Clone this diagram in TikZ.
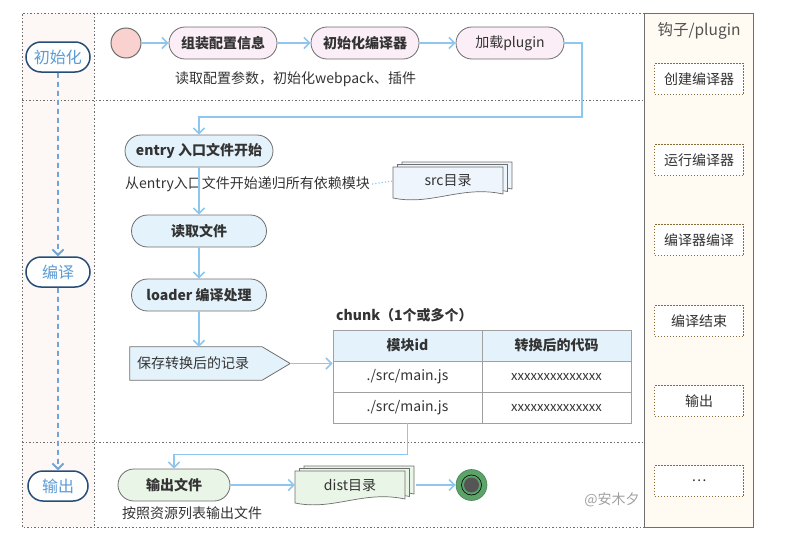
\documentclass[tikz,border=0pt]{standalone}
\usepackage{fontspec}
\setmainfont{Noto Sans CJK SC}
\usepackage{xcolor}
\usetikzlibrary{arrows.meta,positioning,shapes.misc,backgrounds,calc}
\definecolor{txtDark}{RGB}{51,51,51}
\definecolor{frameGray}{RGB}{110,110,110}
\definecolor{laneFill}{RGB}{253,247,246}
\definecolor{hookFill}{RGB}{255,251,243}
\definecolor{hookLine}{RGB}{139,109,58}
\definecolor{laneBorder}{RGB}{38,77,120}
\definecolor{laneText}{RGB}{91,155,213}
\definecolor{laneArrow}{RGB}{111,165,216}
\definecolor{flowBlue}{RGB}{141,199,239}
\definecolor{nodeBorder}{RGB}{110,110,110}
\definecolor{pinkFill}{RGB}{252,238,246}
\definecolor{startFill}{RGB}{249,210,207}
\definecolor{blueFill}{RGB}{228,243,251}
\definecolor{docBlue}{RGB}{238,245,252}
\definecolor{greenFill}{RGB}{233,245,231}
\definecolor{endGreen}{RGB}{92,163,106}
\definecolor{endCore}{RGB}{85,85,85}
\definecolor{tblLine}{RGB}{160,160,160}
\definecolor{markGray}{RGB}{160,160,160}

\newcommand{\fsz}[1]{\fontsize{#1}{#1}\selectfont}
% stacked document sheets: x1 y1 x2 y2 fill
\newcommand{\docsheets}[5]{%
  \foreach \dx/\dy in {9/-5,4.5/-2.5,0/0}{
    \draw[sheet, fill=#5, shift={(\dx,\dy)}]
      (#1,#2) -- (#3,#2) -- (#3,#4-6)
      .. controls ({#1+0.62*(#3-#1)},#4-15) and ({#1+0.35*(#3-#1)},#4+6) .. (#1,#4-2) -- cycle;
  }}

\tikzset{
  frameline/.style={draw=frameGray, line width=0.8pt, dash pattern=on 1.5pt off 2pt},
  flow/.style={draw=flowBlue, line width=1.6pt, -{Straight Barb[length=5.5pt,width=11pt]}},
  lanearrow/.style={draw=laneArrow, line width=1.8pt, dash pattern=on 5pt off 4pt,
    -{Straight Barb[length=5.5pt,width=11pt]}},
  lane/.style={rounded rectangle, draw=laneBorder, line width=1.5pt, fill=white,
    text=laneText, font=\fsz{16}, minimum height=30pt, inner sep=0pt},
  stepnode/.style={rounded rectangle, draw=nodeBorder, line width=0.8pt, text=txtDark,
    minimum height=32pt, inner sep=0pt, font=\bfseries\fsz{14}},
  pinknode/.style={stepnode, fill=pinkFill, minimum width=108pt},
  bluenode/.style={stepnode, fill=blueFill},
  greennode/.style={stepnode, fill=greenFill},
  note/.style={text=txtDark, font=\fsz{14}, inner sep=2pt, anchor=west},
  sheet/.style={draw=nodeBorder, line width=0.7pt},
  doctext/.style={text=txtDark, font=\fsz{14}, minimum width=110pt, minimum height=28pt, inner sep=0pt},
  cell/.style={draw=tblLine, line width=0.8pt, minimum width=149pt, minimum height=31pt,
    inner sep=0pt, text=txtDark, font=\fsz{14}},
  hookbox/.style={draw=hookLine, line width=0.7pt, dash pattern=on 1.5pt off 1.5pt, fill=white,
    minimum width=89pt, minimum height=31pt, inner sep=0pt, text=txtDark, font=\fsz{14}}
}

\begin{document}
\begin{tikzpicture}[x=1pt,y=-1pt]
  \useasboundingbox (0,0) rectangle (788,546);

  % lanes and frame
  \fill[laneFill] (22,13) rectangle (94,527);
  \draw[frameline] (644,13) -- (22,13) -- (22,527) -- (644,527);
  \draw[frameline] (94,13) -- (94,527);
  \draw[frameline] (22,100) -- (644,100);
  \draw[frameline] (22,442) -- (644,442);
  \draw[draw=frameGray, fill=hookFill, line width=0.9pt] (644,13) rectangle (753,527);

  % lane labels
  \node[lane, minimum width=64pt] (init) at (58,57) {初始化};
  \node[lane, minimum width=64pt] (compile) at (58,272) {编译};
  \node[lane, minimum width=60pt] (output) at (58,486) {输出};
  \draw[lanearrow] (init) -- (compile);
  \draw[lanearrow] (compile) -- (output);

  % init lane
  \node[circle, draw=nodeBorder, line width=1pt, fill=startFill, minimum size=30pt] (start) at (126,43) {};
  \node[pinknode] (assemble) at (223,43) {组装配置信息};
  \node[pinknode] (initc) at (365,43) {初始化编译器};
  \node[pinknode, font=\fsz{14}] (plugin) at (510,43) {加载plugin};
  \node[note] (readcfg) at (173,79) {读取配置参数，初始化webpack、插件};
  \draw[flow] (start) -- (assemble);
  \draw[flow] (assemble) -- (initc);
  \draw[flow] (initc) -- (plugin);

  % compile lane
  \node[bluenode, minimum width=148pt] (entry) at (199,151) {entry 入口文件开始};
  \coordinate (loopA) at (582,117);
  \draw[flow] (plugin.east) -| (loopA) -| (entry.north);
  \node[note] (recurse) at (123,184) {从entry入口文件开始递归所有依赖模块};
  \docsheets{393}{167}{503}{200}{docBlue}
  \node[doctext] (src) at (448,181) {src目录};
  \draw[flowBlue, line width=1.2pt, dotted] (recurse.east) -- (src.west);
  \node[bluenode, minimum width=135pt] (readfile) at (199,231) {读取文件};
  \node[bluenode, minimum width=135pt] (loader) at (199,295) {loader 编译处理};
  \draw[flow] (entry) -- (readfile);
  \draw[flow] (readfile) -- (loader);

  \node[text=txtDark, font=\fsz{14}, text width=146pt, align=left, inner xsep=7pt,
    minimum height=33pt] (save) at (210,363.5) {保存转换后的记录};
  \begin{scope}[on background layer]
    \draw[draw=nodeBorder, line width=0.8pt, fill=blueFill]
      (save.north west) -- ([xshift=-28pt]save.north east) -- (save.east)
      -- ([xshift=-28pt]save.south east) -- (save.south west) -- cycle;
  \end{scope}
  \draw[flow] (loader) -- (loader.south |- save.north);

  % chunk table
  \node[text=txtDark, font=\bfseries\fsz{14}, anchor=west, inner sep=0pt] (chunk) at (336,315) {chunk（1个或多个）};
  \node[cell, fill=blueFill, font=\bfseries\fsz{14}] (hdA) at (407.5,345.5) {模块id};
  \node[cell, fill=blueFill, font=\bfseries\fsz{14}] (hdB) at (556.5,345.5) {转换后的代码};
  \node[cell] (rA1) at (407.5,376.5) {./src/main.js};
  \node[cell, font=\fsz{13}] (rB1) at (556.5,376.5) {xxxxxxxxxxxxxx};
  \node[cell] (rA2) at (407.5,407.5) {./src/main.js};
  \node[cell, font=\fsz{13}] (rB2) at (556.5,407.5) {xxxxxxxxxxxxxx};
  \draw[flow] (save.east) -- (save.east -| hdA.west);

  % output lane
  \node[greennode, minimum width=112pt] (outfile) at (174,485) {输出文件};
  \node[note] (listout) at (120,513) {按照资源列表输出文件};
  \draw[flow] (rA2.south) -- ++(0,31) -| (outfile.north);
  \docsheets{295}{471}{405}{505}{greenFill}
  \node[doctext] (dist) at (350,485) {dist目录};
  \draw[flow] (outfile) -- (dist.west);
  \node[circle, fill=endGreen, draw=endGreen!80!black, line width=0.6pt, minimum size=31pt] (finish) at (471.5,485) {};
  \draw[black, line width=0.6pt] (finish.center) circle (10pt);
  \fill[endCore] (finish.center) circle (7.5pt);
  \draw[flow] ([xshift=11pt]dist.east) -- (finish);
  \node[text=markGray, font=\fsz{14}] (mark) at (612,500) {@安木夕};

  % hooks column
  \node[text=txtDark!85, font=\fsz{15.5}] (hooktitle) at (699,31) {钩子/plugin};
  \foreach \y/\txt [count=\i] in {79/创建编译器,160/运行编译器,240/编译器编译,321/编译结束,401/输出,481/\ldots}
    \node[hookbox] (hook\i) at (699,\y) {\txt};
\end{tikzpicture}
\end{document}
